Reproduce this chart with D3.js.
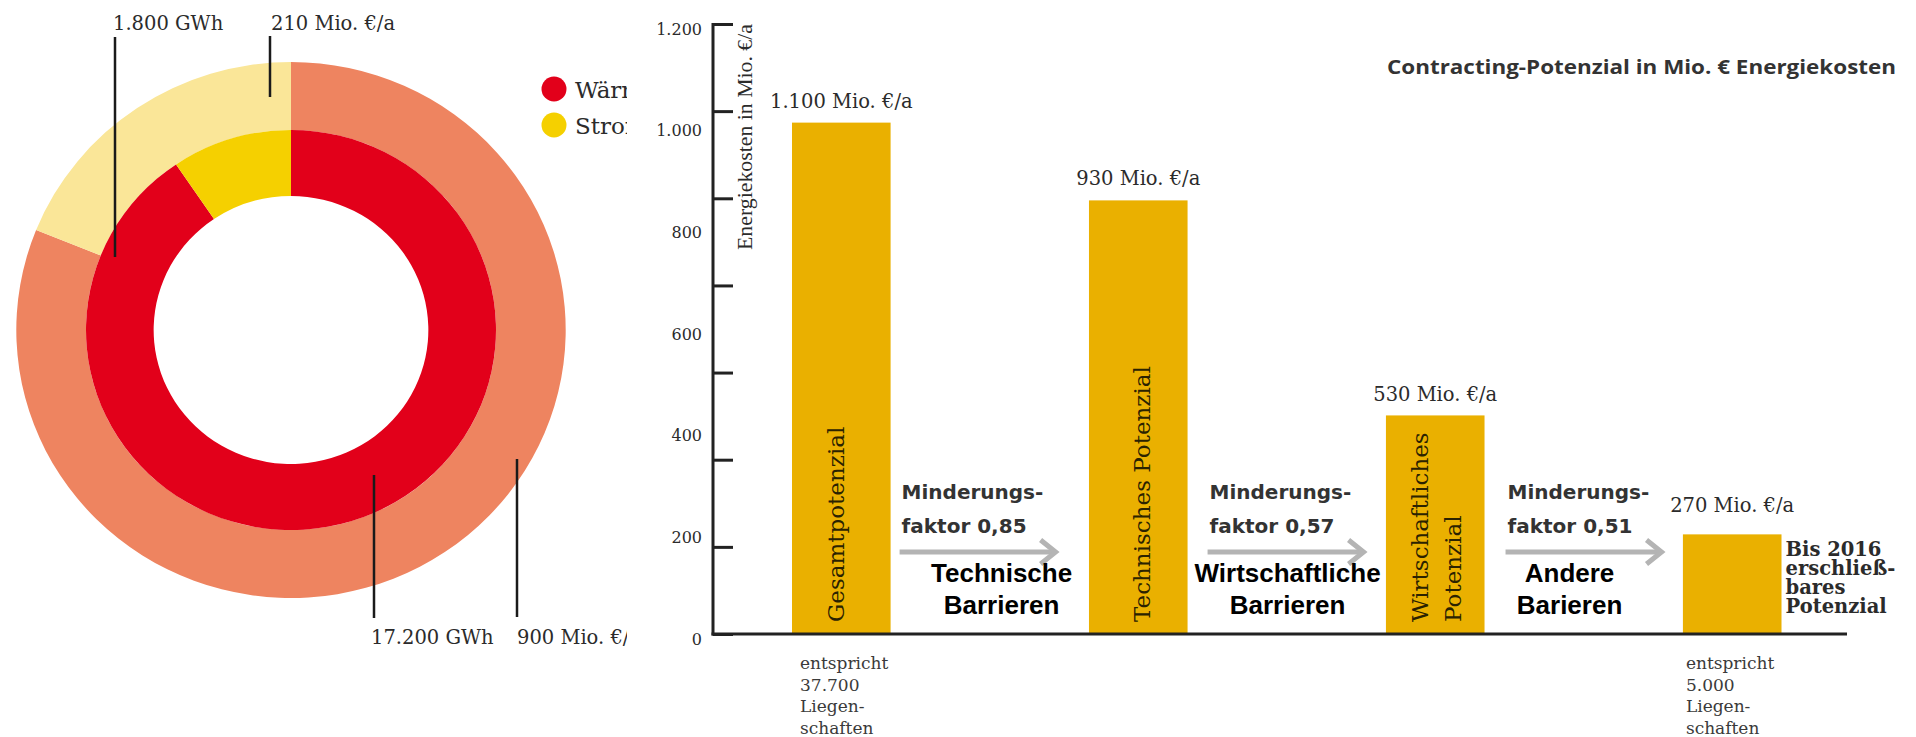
<!DOCTYPE html>
<html><head><meta charset="utf-8">
<script src="https://cdn.jsdelivr.net/npm/d3@7"></script>
<style>body{margin:0;background:#fff}svg{display:block}</style>
</head><body><svg id="c" width="1916" height="737"></svg>
<script>
// ---------- data ----------
const donutCategories = ["Wärme", "Strom"];
const donutEnergyGWh = [17200, 1800];          // inner ring
const donutCostMio = [900, 210];               // outer ring
const donutEnergyLabels = ["17.200 GWh", "1.800 GWh"];
const donutCostLabels = ["900 Mio. €/a", "210 Mio. €/a"];

const barCategories = ["Gesamtpotenzial", "Technisches Potenzial", "Wirtschaftliches Potenzial", "Bis 2016 erschließbares Potenzial"];
const barHeights = [1006, 853, 430, 196];      // bar heights as drawn against the axis
const barValueLabels = ["1.100 Mio. €/a", "930 Mio. €/a", "530 Mio. €/a", "270 Mio. €/a"];
const barInsideLabels = [["Gesamtpotenzial"], ["Technisches Potenzial"], ["Wirtschaftliches", "Potenzial"], []];
const sideLabel = ["Bis 2016", "erschließ-", "bares", "Potenzial"];
const footnoteFirst = ["entspricht", "37.700", "Liegen-", "schaften"];
const footnoteLast = ["entspricht", "5.000", "Liegen-", "schaften"];
const reductionFactors = ["0,85", "0,57", "0,51"];
const barrierLabels = [["Technische", "Barrieren"], ["Wirtschaftliche", "Barrieren"], ["Andere", "Barieren"]];
const tickLabelValues = [0, 200, 400, 600, 800, 1000, 1200];
const tickMarkValues = [0, 171.4, 342.9, 514.3, 685.7, 857.1, 1028.6, 1200];
const axisTitle = "Energiekosten in Mio. €/a";
const chartTitle = "Contracting-Potenzial in Mio. € Energiekosten";

// ---------- setup ----------
const svg = d3.select("#c");
const W = 1916, H = 737;
const de = d3.formatLocale({decimal: ",", thousands: ".", grouping: [3], currency: ["", " €"]});
const fmt = de.format(",");
const SERIF = "'DejaVu Serif', serif";
const SANSB = "'DejaVu Sans', sans-serif";
const ARIAL = "'Liberation Sans', Arial, sans-serif";

svg.append("defs").append("clipPath").attr("id", "clipL")
  .append("rect").attr("x", 0).attr("y", 0).attr("width", 627).attr("height", H);

// ---------- donut ----------
const left = svg.append("g").attr("clip-path", "url(#clipL)");
const cx = 291, cy = 330, sx = 1.025;
const pie = d3.pie().sort(null).value(d => d.v);
const outerCol = ["#EE8460", "#FAE698"], innerCol = ["#E2001A", "#F5D000"];
const ring = left.append("g").attr("transform", `translate(${cx},${cy}) scale(${sx},1)`);
ring.selectAll("path.outer")
  .data(pie(donutCategories.map((c, i) => ({c, v: donutCostMio[i]}))))
  .join("path").attr("class", "outer")
  .attr("d", d3.arc().innerRadius(200).outerRadius(268))
  .attr("fill", (d, i) => outerCol[i]);
ring.selectAll("path.inner")
  .data(pie(donutCategories.map((c, i) => ({c, v: donutEnergyGWh[i]}))))
  .join("path").attr("class", "inner")
  .attr("d", d3.arc().innerRadius(134).outerRadius(200))
  .attr("fill", (d, i) => innerCol[i]);

// leader lines + labels
const annots = [
  {t: donutEnergyLabels[1], tx: 113, ty: 30, lx: 115, y1: 37, y2: 257},
  {t: donutCostLabels[1], tx: 271, ty: 30, lx: 270, y1: 36, y2: 97},
  {t: donutEnergyLabels[0], tx: 371, ty: 644, lx: 374, y1: 475, y2: 618},
  {t: donutCostLabels[0], tx: 517, ty: 644, lx: 517, y1: 459, y2: 617}
];
left.selectAll("line.lead").data(annots).join("line").attr("class", "lead")
  .attr("x1", d => d.lx).attr("x2", d => d.lx).attr("y1", d => d.y1).attr("y2", d => d.y2)
  .attr("stroke", "#1a1a1a").attr("stroke-width", 2.5);
left.selectAll("text.lead").data(annots).join("text").attr("class", "lead")
  .attr("x", d => d.tx).attr("y", d => d.ty).text(d => d.t)
  .attr("font-family", SERIF).attr("font-size", 19.5).attr("fill", "#2b2b2b");

// legend
const leg = left.selectAll("g.leg").data(donutCategories).join("g").attr("class", "leg")
  .attr("transform", (d, i) => `translate(554,${89 + i * 36})`);
leg.append("circle").attr("r", 12.5).attr("fill", (d, i) => innerCol[i]);
leg.append("text").attr("x", 21).attr("y", 8.5).text(d => d)
  .attr("font-family", SERIF).attr("font-size", 23).attr("fill", "#2b2b2b");

// ---------- bar chart ----------
const y = d3.scaleLinear().domain([0, 1200]).range([634, 24]);
const x = d3.scaleBand().domain(barCategories).range([792, 1781.5]).paddingInner(0.668).paddingOuter(0);
const bw = x.bandwidth();
const axX = 713;

// title
svg.append("text").attr("x", 1896).attr("y", 74).attr("text-anchor", "end")
  .attr("font-family", "'Open Sans', sans-serif").attr("font-weight", 700).attr("font-size", 20)
  .attr("textLength", 509).attr("lengthAdjust", "spacingAndGlyphs")
  .attr("fill", "#333").text(chartTitle);

// bars
svg.selectAll("rect.bar").data(barCategories).join("rect").attr("class", "bar")
  .attr("x", d => x(d)).attr("width", bw)
  .attr("y", (d, i) => y(barHeights[i])).attr("height", (d, i) => y(0) - y(barHeights[i]))
  .attr("fill", "#EAB000");

// value labels
const valOff = [15, 15, 14, 22];
svg.selectAll("text.val").data(barCategories).join("text").attr("class", "val")
  .attr("x", d => x(d) + bw / 2).attr("y", (d, i) => y(barHeights[i]) - valOff[i])
  .attr("text-anchor", "middle").attr("font-family", SERIF).attr("font-size", 19.5)
  .attr("fill", "#2b2b2b").text((d, i) => barValueLabels[i]);

// rotated labels inside bars
const insideOff = [[3], [12], [-7, 26], []];
barCategories.forEach((c, i) => {
  barInsideLabels[i].forEach((t, j) => {
    const bx = x(c) + bw / 2 + insideOff[i][j];
    svg.append("text").attr("transform", `translate(${bx},622) rotate(-90)`)
      .attr("font-family", SERIF).attr("font-size", 23).attr("fill", "#2a2200").text(t);
  });
});

// side label for last bar
const lastX = x(barCategories[3]) + bw + 4;
svg.selectAll("text.side").data(sideLabel).join("text").attr("class", "side")
  .attr("x", lastX).attr("y", (d, i) => 556 + i * 19)
  .attr("font-family", SERIF).attr("font-weight", 700).attr("font-size", 19.5)
  .attr("fill", "#2b2b2b").text(d => d);

// footnotes
function foot(lines, x0) {
  svg.append("g").selectAll("text").data(lines).join("text")
    .attr("x", x0).attr("y", (d, i) => 669 + i * 21.5)
    .attr("font-family", SERIF).attr("font-size", 17).attr("fill", "#3a3a3a").text(d => d);
}
foot(footnoteFirst, x(barCategories[0]) + 8);
foot(footnoteLast, x(barCategories[3]) + 3);

// arrows and barrier texts between bars
const arrowOff = [9, 20, 21], barrierCenter = [111, 100, 85];
reductionFactors.forEach((f, i) => {
  const r = x(barCategories[i]) + bw;
  const a0 = r + arrowOff[i], a1 = a0 + 156, ay = 552;
  svg.append("line").attr("x1", a0).attr("x2", a1 - 2).attr("y1", ay).attr("y2", ay)
    .attr("stroke", "#B4B4B4").attr("stroke-width", 5);
  svg.append("path").attr("d", `M${a1 - 15},${ay - 12} L${a1},${ay} L${a1 - 15},${ay + 12}`)
    .attr("fill", "none").attr("stroke", "#B4B4B4").attr("stroke-width", 5);
  svg.append("text").attr("x", a0 + 2).attr("y", 499).attr("font-family", SANSB).attr("font-weight", 700)
    .attr("font-size", 20).attr("fill", "#333").text("Minderungs-");
  svg.append("text").attr("x", a0 + 2).attr("y", 533).attr("font-family", SANSB).attr("font-weight", 700)
    .attr("font-size", 20).attr("fill", "#333").text("faktor " + f);
  barrierLabels[i].forEach((t, j) => {
    svg.append("text").attr("x", r + barrierCenter[i]).attr("y", 582 + j * 32).attr("text-anchor", "middle")
      .attr("font-family", ARIAL).attr("font-weight", 700).attr("font-size", 26).attr("fill", "#000").text(t);
  });
});

// y axis: labels
const gLab = svg.append("g").attr("transform", `translate(${axX},0)`)
  .call(d3.axisLeft(y).tickValues(tickLabelValues).tickSize(0).tickPadding(11).tickFormat(fmt));
gLab.select(".domain").remove();
gLab.selectAll("text").attr("dy", 10).attr("font-family", SERIF).attr("font-size", 16).attr("fill", "#2b2b2b");

// y axis: tick marks
const gTick = svg.append("g").attr("transform", `translate(${axX},0)`)
  .call(d3.axisRight(y).tickValues(tickMarkValues).tickSize(20).tickFormat(""));
gTick.select(".domain").remove();
gTick.selectAll("line").attr("stroke", "#222").attr("stroke-width", 3);

// axis lines
svg.append("line").attr("x1", axX).attr("x2", axX).attr("y1", y(1200) - 1).attr("y2", y(0) + 1.5)
  .attr("stroke", "#222").attr("stroke-width", 3);
svg.append("line").attr("x1", axX - 1.5).attr("x2", 1847).attr("y1", y(0)).attr("y2", y(0))
  .attr("stroke", "#222").attr("stroke-width", 3);

// axis title
svg.append("text").attr("transform", `translate(752,250) rotate(-90)`)
  .attr("font-family", "'Liberation Serif', serif").attr("font-size", 21.5)
  .attr("textLength", 226).attr("lengthAdjust", "spacingAndGlyphs")
  .attr("fill", "#2b2b2b").text(axisTitle);
</script></body></html>
